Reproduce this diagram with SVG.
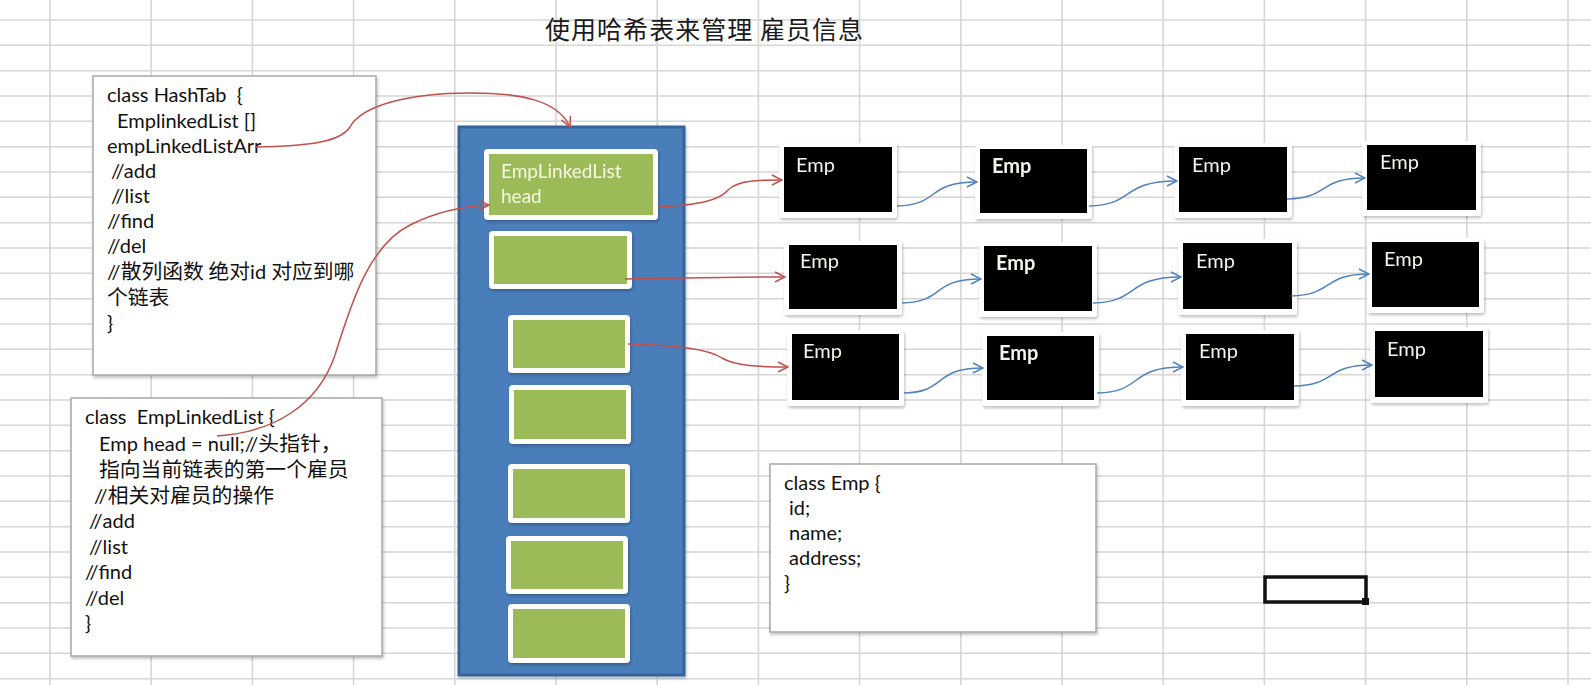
<svg xmlns="http://www.w3.org/2000/svg" width="1591" height="685" viewBox="0 0 1591 685">
<style>
.grid{stroke:#d6d6d6;stroke-width:1.6;fill:none}
.code{font-family:Lato,"Noto Sans CJK SC",sans-serif;font-size:20px;fill:#111}
.cj{font-family:"Noto Sans CJK SC",sans-serif;font-size:20.8px}
.box{fill:#fff;stroke:#a8a8a8;stroke-width:1.5}
.bucket-o{fill:#fff}
.bucket-i{fill:#9bbb59}
.emp-o{fill:#fff}
.emp-i{fill:#000}
.emp-t{font-family:Lato,sans-serif;font-size:20px;fill:#f4f4ea}
.bold{font-weight:bold}
.red{fill:none;stroke:#c0504d;stroke-width:1.5}
.blue{fill:none;stroke:#4f81bd;stroke-width:1.5}
.title{font-family:"Noto Sans CJK SC",sans-serif;font-size:25px;fill:#1a1a1a}
</style>
<defs>
<filter id="sh" x="-10%" y="-10%" width="130%" height="130%">
<feDropShadow dx="1" dy="2" stdDeviation="1.5" flood-color="#000" flood-opacity="0.25"/>
</filter>
<marker id="ar" viewBox="0 0 12 12" refX="11" refY="6" markerWidth="12" markerHeight="12" markerUnits="userSpaceOnUse" orient="auto">
<path d="M1,1 L11,6 L1,11" fill="none" stroke="#c0504d" stroke-width="1.5"/>
</marker>
<marker id="ab" viewBox="0 0 12 12" refX="11" refY="6" markerWidth="12" markerHeight="12" markerUnits="userSpaceOnUse" orient="auto">
<path d="M1,1 L11,6 L1,11" fill="none" stroke="#4f81bd" stroke-width="1.5"/>
</marker>
</defs>
<rect width="1591" height="685" fill="#fff"/>
<g id="grid">
<path class="grid" d="M50,0V685M151.2,0V685M252.4,0V685M353.6,0V685M454.8,0V685M556,0V685M657.2,0V685M758.4,0V685M859.6,0V685M960.8,0V685M1062,0V685M1163.2,0V685M1264.4,0V685M1365.6,0V685M1466.8,0V685M1568,0V685
M0,20H1591M0,45.3H1591M0,70.7H1591M0,96H1591M0,121.3H1591M0,146.7H1591M0,172H1591M0,197.3H1591M0,222.7H1591M0,248H1591M0,273.3H1591M0,298.7H1591M0,324H1591M0,349.3H1591M0,374.7H1591M0,400H1591M0,425.3H1591M0,450.7H1591M0,476H1591M0,501.3H1591M0,526.7H1591M0,552H1591M0,577.3H1591M0,602.7H1591M0,628H1591M0,653.3H1591M0,678.7H1591"/>
</g>
<g id="title"><text class="title" x="545" y="39" textLength="318" lengthAdjust="spacing" xml:space="preserve">使用哈希表来管理 雇员信息</text></g>

<g id="hashtab">
<rect class="box" x="93" y="76" width="283" height="299" filter="url(#sh)"/>
<text class="code" xml:space="preserve"><tspan x="107" y="102">class HashTab  {</tspan><tspan x="117" y="128">EmplinkedList []</tspan><tspan x="107" y="153">empLinkedListArr</tspan><tspan x="111" y="178">//add</tspan><tspan x="111" y="203">//list</tspan><tspan x="107" y="228">//find</tspan><tspan x="107" y="253">//del</tspan><tspan x="107" y="279">//<tspan class="cj">散列函数 绝对</tspan>id <tspan class="cj">对应到哪</tspan></tspan><tspan x="107" y="305" class="cj">个链表</tspan><tspan x="107" y="330">}</tspan></text>
</g>

<g id="emplinkedlist-class">
<rect class="box" x="71" y="398" width="311" height="258" filter="url(#sh)"/>
<text class="code" xml:space="preserve"><tspan x="85" y="424">class  EmpLinkedList {</tspan><tspan x="99" y="451">Emp head = null;//<tspan class="cj">头指针，</tspan></tspan><tspan x="99" y="477" class="cj">指向当前链表的第一个雇员</tspan><tspan x="94" y="503">//<tspan class="cj">相关对雇员的操作</tspan></tspan><tspan x="89" y="528">//add</tspan><tspan x="89" y="554">//list</tspan><tspan x="85" y="579">//find</tspan><tspan x="85" y="605">//del</tspan><tspan x="85" y="630">}</tspan></text>
</g>

<g id="emp-class">
<rect class="box" x="770" y="464" width="326" height="168" filter="url(#sh)"/>
<text class="code" xml:space="preserve"><tspan x="784" y="490">class Emp {</tspan><tspan x="789" y="515">id;</tspan><tspan x="789" y="540">name;</tspan><tspan x="789" y="565">address;</tspan><tspan x="784" y="590">}</tspan></text>
</g>

<g id="hashtable-array">
<rect x="459" y="127" width="225" height="548" fill="#4a7ebb" stroke="#35649a" stroke-width="3" filter="url(#sh)"/>
</g>

<g id="bucket1" filter="url(#sh)"><rect class="bucket-o" x="484" y="149" width="174" height="71" rx="4"/><rect class="bucket-i" x="489" y="154" width="164" height="61"/>
<text x="501" y="178" font-family="Lato,sans-serif" font-size="19" fill="#f7f7e4">EmpLinkedList</text><text x="501" y="203" font-family="Lato,sans-serif" font-size="19" fill="#f7f7e4">head</text></g>
<g id="bucket2" filter="url(#sh)"><rect class="bucket-o" x="489" y="231" width="143" height="58" rx="4"/><rect class="bucket-i" x="494" y="236" width="133" height="48"/></g>
<g id="bucket3" filter="url(#sh)"><rect class="bucket-o" x="508" y="315" width="122" height="58" rx="4"/><rect class="bucket-i" x="513" y="320" width="112" height="48"/></g>
<g id="bucket4" filter="url(#sh)"><rect class="bucket-o" x="509" y="385" width="122" height="59" rx="4"/><rect class="bucket-i" x="514" y="390" width="112" height="49"/></g>
<g id="bucket5" filter="url(#sh)"><rect class="bucket-o" x="508" y="464" width="122" height="59" rx="4"/><rect class="bucket-i" x="513" y="469" width="112" height="49"/></g>
<g id="bucket6" filter="url(#sh)"><rect class="bucket-o" x="506" y="536" width="122" height="58" rx="4"/><rect class="bucket-i" x="511" y="541" width="112" height="48"/></g>
<g id="bucket7" filter="url(#sh)"><rect class="bucket-o" x="508" y="604" width="122" height="59" rx="4"/><rect class="bucket-i" x="513" y="609" width="112" height="49"/></g>

<g id="emp-r1c1" filter="url(#sh)"><rect class="emp-o" x="779" y="143" width="118" height="75" rx="3"/><rect class="emp-i" x="784" y="147" width="108" height="65"/><text class="emp-t" x="796" y="172">Emp</text></g>
<g id="emp-r1c2" filter="url(#sh)"><rect class="emp-o" x="975" y="145" width="117" height="74" rx="3"/><rect class="emp-i" x="980" y="149" width="107" height="64"/><text class="emp-t bold" x="992" y="173">Emp</text></g>
<g id="emp-r1c3" filter="url(#sh)"><rect class="emp-o" x="1174" y="143" width="118" height="75" rx="3"/><rect class="emp-i" x="1179" y="147" width="108" height="65"/><text class="emp-t" x="1192" y="172">Emp</text></g>
<g id="emp-r1c4" filter="url(#sh)"><rect class="emp-o" x="1362" y="141" width="119" height="75" rx="3"/><rect class="emp-i" x="1367" y="145" width="109" height="65"/><text class="emp-t" x="1380" y="169">Emp</text></g>

<g id="emp-r2c1" filter="url(#sh)"><rect class="emp-o" x="784" y="241" width="118" height="74" rx="3"/><rect class="emp-i" x="789" y="245" width="108" height="64"/><text class="emp-t" x="800" y="268">Emp</text></g>
<g id="emp-r2c2" filter="url(#sh)"><rect class="emp-o" x="979" y="242" width="118" height="75" rx="3"/><rect class="emp-i" x="984" y="246" width="108" height="65"/><text class="emp-t bold" x="996" y="270">Emp</text></g>
<g id="emp-r2c3" filter="url(#sh)"><rect class="emp-o" x="1178" y="239" width="119" height="76" rx="3"/><rect class="emp-i" x="1183" y="243" width="109" height="66"/><text class="emp-t" x="1196" y="268">Emp</text></g>
<g id="emp-r2c4" filter="url(#sh)"><rect class="emp-o" x="1367" y="238" width="117" height="75" rx="3"/><rect class="emp-i" x="1372" y="242" width="107" height="65"/><text class="emp-t" x="1384" y="266">Emp</text></g>

<g id="emp-r3c1" filter="url(#sh)"><rect class="emp-o" x="787" y="330" width="117" height="76" rx="3"/><rect class="emp-i" x="792" y="334" width="107" height="66"/><text class="emp-t" x="803" y="358">Emp</text></g>
<g id="emp-r3c2" filter="url(#sh)"><rect class="emp-o" x="982" y="332" width="117" height="74" rx="3"/><rect class="emp-i" x="987" y="336" width="107" height="64"/><text class="emp-t bold" x="999" y="360">Emp</text></g>
<g id="emp-r3c3" filter="url(#sh)"><rect class="emp-o" x="1181" y="330" width="118" height="76" rx="3"/><rect class="emp-i" x="1186" y="334" width="108" height="66"/><text class="emp-t" x="1199" y="358">Emp</text></g>
<g id="emp-r3c4" filter="url(#sh)"><rect class="emp-o" x="1370" y="327" width="118" height="76" rx="3"/><rect class="emp-i" x="1375" y="331" width="108" height="66"/><text class="emp-t" x="1387" y="356">Emp</text></g>

<g id="selected-cell">
<rect x="1265" y="577" width="101" height="25" fill="none" stroke="#111" stroke-width="3.5"/>
<rect x="1362" y="598" width="7" height="7" fill="#111"/>
</g>

<g id="connectors">
<path class="red" marker-end="url(#ar)" d="M255,147 C310,146 340,142 350,127 C362,105 410,93 470,93 C520,93 558,100 570,127"/>
<path class="red" marker-end="url(#ar)" d="M217,436 C275,432 318,405 335,355 C352,300 370,245 410,225 C440,210 465,206 489,205"/>
<path class="red" marker-end="url(#ar)" d="M658,207 C700,205 720,200 728,190 C738,180 760,180 782,180"/>
<path class="red" marker-end="url(#ar)" d="M625,279 C680,278 740,277 785,277"/>
<path class="red" marker-end="url(#ar)" d="M628,344 C680,345 710,350 722,358 C735,366 760,367 788,367"/>

<path class="blue" marker-end="url(#ab)" d="M897,206 C941,205 925,182 977,182"/>
<path class="blue" marker-end="url(#ab)" d="M1089,206 C1135,205 1120,181 1177,181"/>
<path class="blue" marker-end="url(#ab)" d="M1287,199 C1330,198 1318,178 1365,178"/>
<path class="blue" marker-end="url(#ab)" d="M902,303 C946,302 930,279 981,279"/>
<path class="blue" marker-end="url(#ab)" d="M1093,303 C1140,302 1125,277 1181,277"/>
<path class="blue" marker-end="url(#ab)" d="M1291,296 C1334,295 1322,274 1369,274"/>
<path class="blue" marker-end="url(#ab)" d="M904,393 C948,392 932,368 983,368"/>
<path class="blue" marker-end="url(#ab)" d="M1097,393 C1144,392 1128,367 1183,367"/>
<path class="blue" marker-end="url(#ab)" d="M1294,386 C1337,385 1325,365 1372,365"/>
</g>
</svg>
